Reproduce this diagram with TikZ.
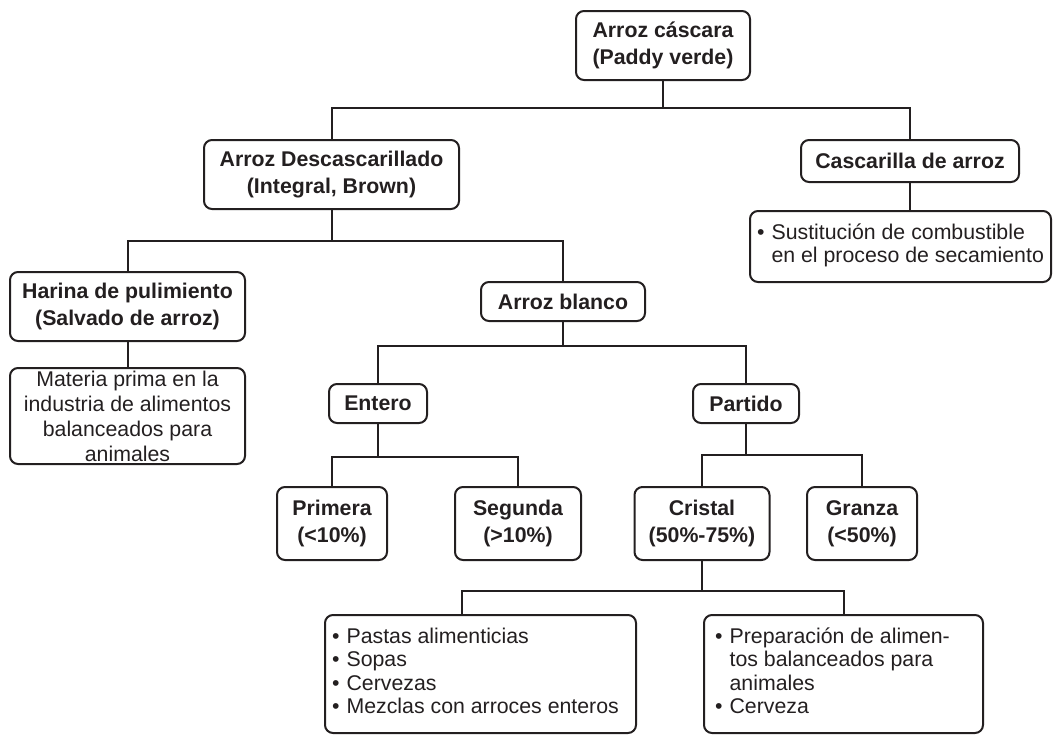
\documentclass[tikz,border=0pt]{standalone}
\usepackage{fontspec}
\setmainfont{Liberation Sans}
\usepackage{tikz}
\definecolor{linea}{HTML}{231F20}

\begin{document}
\begin{tikzpicture}[x=1pt,y=-1pt,
  caja/.style={draw=linea, line width=2pt, rounded corners=8pt, align=center, text=linea, inner sep=2pt},
  titulo/.style={caja, font=\fontsize{21.3}{27}\selectfont\bfseries},
  texto/.style={caja, font=\fontsize{21.3}{25}\selectfont},
  lista/.style={caja, font=\fontsize{21.3}{23.5}\selectfont},
  rama/.style={draw=linea, line width=2pt}]
\useasboundingbox (0,0) rectangle (1057,736);

% cajas
\node[titulo, minimum width=174pt, minimum height=69pt] (raiz) at (663,45.5) {Arroz cáscara\\(Paddy verde)};
\node[titulo, minimum width=255pt, minimum height=69pt] (desc) at (331.5,174.5) {Arroz Descascarillado\\(Integral, Brown)};
\node[titulo, minimum width=218pt, minimum height=42pt] (casc) at (910,161) {Cascarilla de arroz};
\node[lista, minimum width=301pt, minimum height=71pt] (sust) at (900.5,246.5)
  {\begin{tabular}{@{}l@{\hspace{7pt}}l@{}}\textbullet & Sustitución de combustible\\ & en el proceso de secamiento\end{tabular}};
\node[titulo, minimum width=235pt, minimum height=69pt] (harina) at (127.5,306.5) {Harina de pulimiento\\(Salvado de arroz)};
\node[texto, minimum width=235pt, minimum height=96pt] (materia) at (127.5,416) {Materia prima en la\\industria de alimentos\\balanceados para\\animales};
\node[titulo, minimum width=164pt, minimum height=39pt] (blanco) at (563,301.5) {Arroz blanco};
\node[titulo, minimum width=98pt, minimum height=39pt] (entero) at (378,403.5) {Entero};
\node[titulo, minimum width=106pt, minimum height=39pt] (partido) at (746,403.5) {Partido};
\node[titulo, minimum width=110pt, minimum height=73pt] (primera) at (332,523.5) {Primera\\(<10\%)};
\node[titulo, minimum width=126pt, minimum height=73pt] (segunda) at (518,523.5) {Segunda\\(>10\%)};
\node[titulo, minimum width=135pt, minimum height=73pt] (cristal) at (702,523.5) {Cristal\\(50\%-75\%)};
\node[titulo, minimum width=110pt, minimum height=73pt] (granza) at (862,523.5) {Granza\\(<50\%)};
\node[lista, minimum width=311pt, minimum height=118pt] (usos) at (480.5,674)
  {\begin{tabular}{@{}l@{\hspace{7pt}}l@{}}\textbullet & Pastas alimenticias\\ \textbullet & Sopas\\ \textbullet & Cervezas\\ \textbullet & Mezclas con arroces enteros\end{tabular}\hspace{10pt}};
\node[lista, minimum width=279pt, minimum height=118pt] (pienso) at (843.5,674)
  {\begin{tabular}{@{}l@{\hspace{7pt}}l@{}}\textbullet & Preparación de alimen-\\ & tos balanceados para\\ & animales\\ \textbullet & Cerveza\end{tabular}\hspace{22pt}};

% ramas
\draw[rama] (raiz.south) -- ++(0,27) coordinate (b1);
\draw[rama] (desc.north) -- (desc.north |- b1) -- (casc.north |- b1) -- (casc.north);
\draw[rama] (casc.south) -- (casc.south |- sust.north);

\draw[rama] (desc.south) -- ++(0,31) coordinate (b2);
\draw[rama] (harina.north) -- (harina.north |- b2) -- (blanco.north |- b2) -- (blanco.north);
\draw[rama] (harina.south) -- (materia.north);

\draw[rama] (blanco.south) -- ++(0,24) coordinate (b3);
\draw[rama] (entero.north) -- (entero.north |- b3) -- (partido.north |- b3) -- (partido.north);

\draw[rama] (entero.south) -- ++(0,33) coordinate (b4);
\draw[rama] (primera.north) -- (primera.north |- b4) -- (segunda.north |- b4) -- (segunda.north);

\draw[rama] (partido.south) -- ++(0,31) coordinate (b5);
\draw[rama] (cristal.north) -- (cristal.north |- b5) -- (granza.north |- b5) -- (granza.north);

\draw[rama] (cristal.south) -- ++(0,30) coordinate (b6);
\coordinate (u1) at ([xshift=-18.5pt]usos.north);
\draw[rama] (u1) -- (u1 |- b6) -- (pienso.north |- b6) -- (pienso.north);
\end{tikzpicture}
\end{document}
